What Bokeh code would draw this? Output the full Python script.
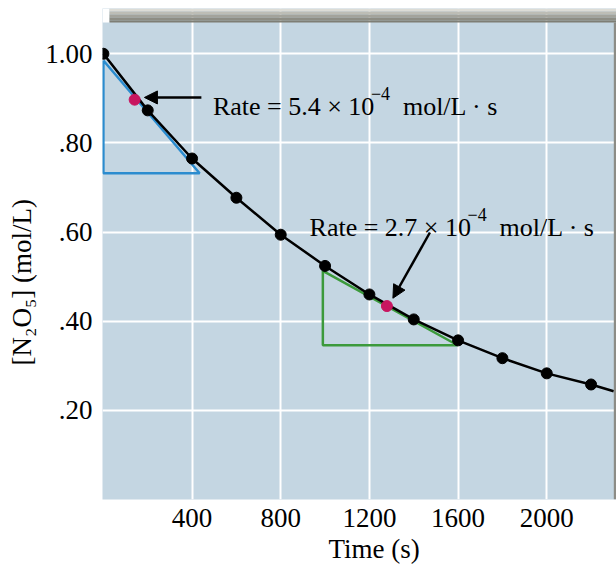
import math
from bokeh.plotting import figure
from bokeh.models import (Range1d, FixedTicker, CustomJSTickFormatter, Label, Arrow,
                          NormalHead, BoxAnnotation, Title)
from bokeh.embed import file_html
from bokeh.resources import INLINE

# ---- data ----
time_s = [0, 200, 400, 600, 800, 1000, 1200, 1400, 1600, 1800, 2000, 2200]
conc = [1.00, 0.873, 0.765, 0.677, 0.594, 0.524, 0.460, 0.404, 0.357, 0.317, 0.283, 0.258]
curve_end_t = [2302]
curve_end_c = [0.243]
rate_t = [141, 1279]
rate_c = [0.897, 0.434]
tangent1_t = [0, 0, 434, 0]
tangent1_c = [0.985, 0.732, 0.732, 0.985]
tangent2_t = [990, 990, 1598, 990]
tangent2_c = [0.513, 0.346, 0.346, 0.513]
x_ticks = [400, 800, 1200, 1600, 2000]
y_ticks = [0.2, 0.4, 0.6, 0.8, 1.0]
rate_values = ["5.4", "2.7"]
rate_label_t = [494, 930]
rate_label_c = [0.882, 0.611]
rate_exponent = "−4"
rate_unit = "mol/L · s"
x_title = "Time (s)"
y_title = "[N₂O₅] (mol/L)"

# ---- layout helpers (page pixels -> data) ----
W, H = 616, 573
FL, FR, FT, FB = 101, 616, 8, 499  # frame edges on the page
PX_PER_T = 0.2221
PX_PER_C = 446.1
X0 = -(101.9 - FL) / PX_PER_T
X1 = X0 + (FR - FL) / PX_PER_T
Y0 = 0.0
Y1 = 1.0 + (53.3 - FT) / PX_PER_C

def xv(px):
    return X0 + (px - FL) / (FR - FL) * (X1 - X0)

def yv(py):
    return Y0 + (FB - py) / (FB - FT) * (Y1 - Y0)

SERIF = "Liberation Serif"

p = figure(width=W, height=H, output_backend="svg", toolbar_location=None,
           x_range=Range1d(X0, X1), y_range=Range1d(Y0, Y1),
           min_border_left=FL, min_border_right=W - FR, min_border_top=FT,
           min_border_bottom=H - FB)
p.title.visible = False
p.outline_line_color = None
p.background_fill_color = "#c4d6e2"
p.border_fill_color = "white"

for ax in (p.xaxis[0], p.yaxis[0]):
    ax.axis_line_color = None
    ax.major_tick_line_color = None
    ax.minor_tick_line_color = None
    ax.major_tick_out = 0
    ax.major_tick_in = 0
    ax.major_label_text_font = SERIF
    ax.major_label_text_font_size = "27px"
    ax.major_label_text_color = "black"
    ax.major_label_standoff = 10
p.xaxis.major_label_standoff = 9

p.xaxis.ticker = FixedTicker(ticks=x_ticks)
p.yaxis.ticker = FixedTicker(ticks=y_ticks)
p.yaxis.formatter = CustomJSTickFormatter(
    code="var s = tick.toFixed(2); return tick < 1 ? s.slice(1) : s;")

p.add_layout(Title(text=x_title, align="left", offset=226,
                   vertical_align="bottom", standoff=4, text_font=SERIF,
                   text_font_size="27px", text_font_style="normal",
                   text_color="black"), "below")

p.add_layout(Title(text=y_title, align="left", offset=FB - 365,
                   vertical_align="middle", text_font=SERIF,
                   text_font_size="27px", text_font_style="normal",
                   text_color="black"), "left")

p.xgrid.ticker = FixedTicker(ticks=x_ticks)
p.ygrid.ticker = FixedTicker(ticks=y_ticks)
for g in (p.xgrid[0], p.ygrid[0]):
    g.grid_line_color = "white"
    g.grid_line_width = 2

# shadow decoration along the top and right of the panel
bands = [(8, 11, "#dcdcd6"), (11, 14, "#bdbdb5"), (14, 17, "#a3a39b"),
         (17, 20, "#8d8d84"), (20, 22, "#7e7e75")]
p.add_layout(BoxAnnotation(left=X0, right=xv(108), bottom=yv(22), top=Y1,
                           fill_color="white", fill_alpha=1, line_color=None))
for top_px, bot_px, col in bands:
    p.add_layout(BoxAnnotation(left=xv(108), right=X1, bottom=yv(bot_px), top=yv(top_px),
                               fill_color=col, fill_alpha=1, line_color=None))
p.add_layout(BoxAnnotation(left=xv(613.3), right=X1, bottom=Y0, top=yv(22),
                           fill_color="#8c8c86", fill_alpha=1, line_color=None))

# tangent triangles
p.line(tangent1_t, tangent1_c, line_color="#2b8ccf", line_width=2.5)
p.line(tangent2_t, tangent2_c, line_color="#3c9a3c", line_width=2.5)

# concentration curve and points
p.line(time_s + curve_end_t, conc + curve_end_c, line_color="black", line_width=2.5)
p.scatter(time_s, conc, size=11, fill_color="black", line_color="black")
p.scatter(rate_t, rate_c, size=11, fill_color="#c8155f", line_color="#c8155f")

# rate annotations (main text, raised exponent, unit)
for val, lt, lc in zip(rate_values, rate_label_t, rate_label_c):
    common = dict(x=lt, y=lc, text_font=SERIF, text_color="black",
                  text_align="left", text_baseline="alphabetic")
    p.add_layout(Label(text=f"Rate = {val} × 10", text_font_size="26px", **common))
    p.add_layout(Label(text=rate_exponent, text_font_size="18px",
                       x_offset=158, y_offset=13, **common))
    p.add_layout(Label(text=rate_unit, text_font_size="26px",
                       x_offset=190, **common))

p.add_layout(Arrow(x_start=442, y_start=0.902, x_end=185, y_end=0.902,
                   line_width=2.5, line_color="black",
                   end=NormalHead(size=13, fill_color="black", line_color="black")))
p.add_layout(Arrow(x_start=1473, y_start=0.599, x_end=1306, y_end=0.4515,
                   line_width=2.5, line_color="black",
                   end=NormalHead(size=13, fill_color="black", line_color="black")))

open("out.html", "w").write(file_html(p, INLINE))
